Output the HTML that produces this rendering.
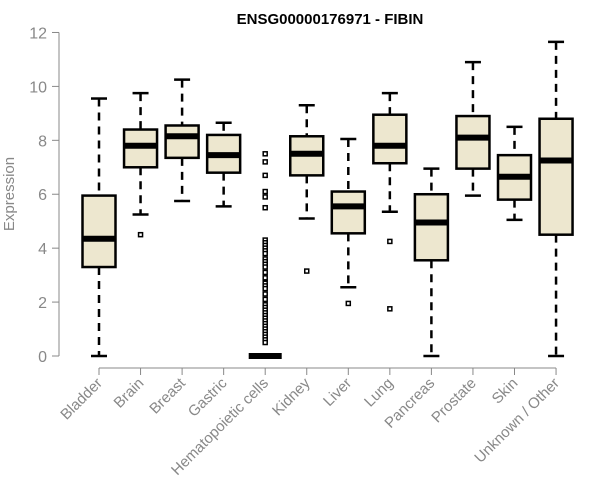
<!DOCTYPE html>
<html><head><meta charset="utf-8"><style>
body{margin:0;background:#fff;}
svg{display:block;font-family:"Liberation Sans",sans-serif;}
</style></head><body>
<svg id="chart" width="600" height="500">
<text x="330" y="24" text-anchor="middle" font-weight="bold" font-size="15">ENSG00000176971 - FIBIN</text>
<g id="yaxis"></g>
<text transform="translate(14,194) rotate(-90)" text-anchor="middle" font-size="15" fill="#888">Expression</text>
<g id="xaxis"></g>
<g id="boxes"></g>
</svg>
<script>
const categories=["Bladder","Brain","Breast","Gastric","Hematopoietic cells","Kidney","Liver","Lung","Pancreas","Prostate","Skin","Unknown / Other"];
const lowW=[0,5.25,5.75,5.55,0,5.1,2.55,5.35,0,5.95,5.05,0];
const q1=[3.3,7.0,7.35,6.8,0,6.7,4.55,7.15,3.55,6.95,5.8,4.5];
const med=[4.35,7.8,8.15,7.45,0,7.5,5.55,7.8,4.95,8.1,6.65,7.25];
const q3=[5.95,8.4,8.55,8.2,0,8.15,6.1,8.95,6.0,8.9,7.45,8.8];
const highW=[9.55,9.75,10.25,8.65,0,9.3,8.05,9.75,6.95,10.9,8.5,11.65];
const outliers=[[],[4.5],[],[],[7.5,7.2,6.7,6.1,5.9,5.5,4.3,4.2,4.1,4.0,3.9,3.8,3.6,3.5,3.4,3.3,3.1,2.9,2.7,2.6,2.5,2.3,2.1,1.9,1.8,1.7,1.6,1.5,1.4,1.3,1.2,1.1,1.0,0.9,0.8,0.7,0.6,0.5],[3.15],[1.95],[4.25,1.75],[],[],[],[]];
const yTicks=[0,2,4,6,8,10,12];
const NS="http://www.w3.org/2000/svg";
const y=v=>356-v*26.96;
const x=i=>99+i*41.55;
function mk(t,a,p){const e=document.createElementNS(NS,t);for(const k in a)e.setAttribute(k,a[k]);p.appendChild(e);return e;}
const ya=document.getElementById('yaxis');
mk('line',{x1:59,x2:59,y1:y(0),y2:y(12),stroke:'#888'},ya);
yTicks.forEach(t=>{
 const l=mk('line',{x1:52,x2:59,y1:y(t),y2:y(t),stroke:'#888'},ya);
 
 
 const tx=mk('text',{x:47,y:y(t)+6,'text-anchor':'end','font-size':16,fill:'#888'},ya);
 tx.textContent=t;
 
 
});
const xa=document.getElementById('xaxis');
mk('line',{x1:x(0),x2:x(11),y1:368,y2:368,stroke:'#888'},xa);
categories.forEach((c,i)=>{
 mk('line',{x1:x(i),x2:x(i),y1:368,y2:375,stroke:'#888'},xa);
 const tx=mk('text',{transform:`translate(${x(i)+4},${384}) rotate(-45)`,'text-anchor':'end','font-size':15,fill:'#888'},xa);
 tx.textContent=c;
 
 
});
const bx=document.getElementById('boxes');
categories.forEach((c,i)=>{
 const g=mk('g',{},bx);
 
 
 const cx=x(i),hw=16.5;
 mk('line',{x1:cx,x2:cx,y1:y(highW[i]),y2:y(q3[i]),stroke:'#000','stroke-width':2.5,'stroke-dasharray':'8,6'},g);
 mk('line',{x1:cx,x2:cx,y1:y(q1[i]),y2:y(lowW[i]),stroke:'#000','stroke-width':2.5,'stroke-dasharray':'8,6'},g);
 mk('line',{x1:cx-8,x2:cx+8,y1:y(highW[i]),y2:y(highW[i]),stroke:'#000','stroke-width':2.5},g);
 mk('line',{x1:cx-8,x2:cx+8,y1:y(lowW[i]),y2:y(lowW[i]),stroke:'#000','stroke-width':2.5},g);
 mk('rect',{x:cx-hw,y:y(q3[i]),width:2*hw,height:Math.max(0,y(q1[i])-y(q3[i])),fill:'#ede7cf',stroke:'#000','stroke-width':2.5},g);
 mk('line',{x1:cx-hw,x2:cx+hw,y1:y(med[i]),y2:y(med[i]),stroke:'#000','stroke-width':6},g);
 outliers[i].forEach(v=>{
  const r=mk('rect',{x:cx-2,y:y(v)-2,width:4,height:4,fill:'#fff',stroke:'#000','stroke-width':1.5},g);
  
  
 });
});
</script>
</body></html>
